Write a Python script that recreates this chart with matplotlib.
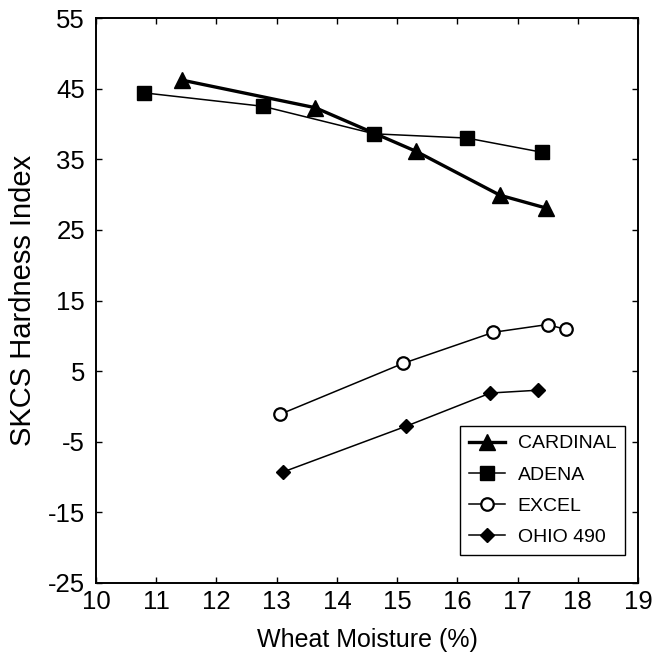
import matplotlib
matplotlib.use("Agg")
import matplotlib.pyplot as plt

plt.rcParams['font.family'] = ['Liberation Sans', 'DejaVu Sans']
plt.rcParams['axes.unicode_minus'] = False

cardinal_x = [11.43, 13.64, 15.32, 16.71, 17.47]
cardinal_y = [46.2, 42.3, 36.1, 29.9, 28.1]
adena_x = [10.8, 12.77, 14.62, 16.16, 17.4]
adena_y = [44.4, 42.5, 38.6, 38.0, 36.0]
excel_x = [13.06, 15.1, 16.6, 17.5, 17.8]
excel_y = [-1.1, 6.1, 10.5, 11.6, 10.9]
ohio_x = [13.1, 15.15, 16.55, 17.34]
ohio_y = [-9.3, -2.8, 1.9, 2.3]

xticks = list(range(10, 20))
yticks = [-25, -15, -5, 5, 15, 25, 35, 45, 55]

fig = plt.figure(figsize=(6.54, 6.54), dpi=100)
ax = fig.add_axes([96/654, 1-583/654, 542/654, 565/654])

ax.plot(cardinal_x, cardinal_y, color='black', lw=2.4, marker='^', ms=11, label='CARDINAL')
ax.plot(adena_x, adena_y, color='black', lw=1.1, marker='s', ms=10.5, label='ADENA')
ax.plot(excel_x, excel_y, color='black', lw=1.1, marker='o', ms=9, mfc='white', mew=1.6, label='EXCEL')
ax.plot(ohio_x, ohio_y, color='black', lw=1.1, marker='D', ms=7.5, label='OHIO 490')

ax.set_xlim(10, 19)
ax.set_ylim(-25, 55)
ax.set_xticks(xticks)
ax.set_yticks(yticks)
ax.tick_params(direction='in', top=True, right=True, length=4, width=1, labelsize=18.5)
ax.tick_params(axis='x', pad=5)
ax.tick_params(axis='y', pad=8)
for s in ax.spines.values():
    s.set_linewidth(1.4)

ax.set_xlabel('Wheat Moisture (%)', fontsize=18, labelpad=10)
ax.set_ylabel('SKCS Hardness Index', fontsize=21, labelpad=8)

leg = ax.legend(loc='lower right', bbox_to_anchor=(0.976, 0.05), fontsize=14, frameon=True,
                fancybox=False, edgecolor='black', framealpha=1, borderpad=0.45,
                borderaxespad=0, labelspacing=0.7, handlelength=1.85, handletextpad=0.65)
leg.get_frame().set_linewidth(1.0)

fig.savefig('out.png', dpi=100)
